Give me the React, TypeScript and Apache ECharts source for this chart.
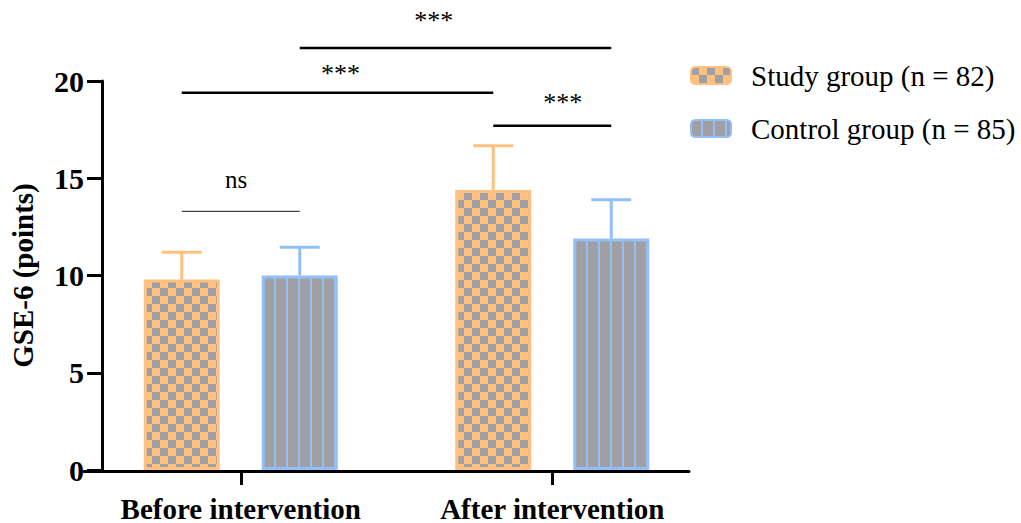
import { useEffect, useRef } from 'react';
import * as echarts from 'echarts';

// ---- data ----
const categories = ['Before intervention', 'After intervention'];
const seriesNames = ['Study group (n = 82)', 'Control group (n = 85)'];
const studyMeans = [9.8, 14.4];
const studySD = [1.4, 2.27];
const controlMeans = [10.0, 11.9];
const controlSD = [1.45, 2.0];
const yMin = 0;
const yMax = 20;
const yInterval = 5;
const yAxisName = 'GSE-6 (points)';

// significance brackets: [fromCategory, fromGroup, toCategory, toGroup, lineValue, labelFraction, labelValue]
const bracketFrom = [[0, 0], [0, 0], [0, 1], [1, 0]];
const bracketTo = [[0, 1], [1, 0], [1, 1], [1, 1]];
const bracketValue = [13.3, 19.4, 21.7, 17.7];
const bracketLabels = ['ns', '***', '***', '***'];
const bracketLabelFrac = [0.46, 0.51, 0.43, 0.59];
const bracketLabelValue = [14.95, 20.4, 23.1, 18.9];

// ---- style ----
const SERIF = '"Liberation Serif", "Times New Roman", serif';
const ORANGE = '#FFC080';
const BLUE = '#92BFF7';
const GRAY = '#A0A0A4';
const BAR_W = 76;
const BAR_GAP = 42;
const BAR_OFFSET = (BAR_W + BAR_GAP) / 2;
const CAP = 20;

function makeChecker(): HTMLCanvasElement {
  const c = document.createElement('canvas');
  c.width = 16;
  c.height = 16;
  const g = c.getContext('2d')!;
  g.fillStyle = ORANGE;
  g.fillRect(0, 0, 16, 16);
  g.fillStyle = GRAY;
  g.fillRect(0, 0, 8, 8);
  g.fillRect(8, 8, 8, 8);
  return c;
}

function makeStripes(): HTMLCanvasElement {
  const c = document.createElement('canvas');
  c.width = 12;
  c.height = 12;
  const g = c.getContext('2d')!;
  g.fillStyle = GRAY;
  g.fillRect(0, 0, 12, 12);
  g.fillStyle = BLUE;
  g.fillRect(10, 0, 2, 12);
  return c;
}

export default function App() {
  const ref = useRef<HTMLDivElement>(null);

  useEffect(() => {
    if (!ref.current) return;
    const chart = echarts.init(ref.current, undefined, { renderer: 'svg' });
    const checker = makeChecker();
    const stripes = makeStripes();

    const errData = [
      ...studyMeans.map((m, i) => [i, 0, m, studySD[i]]),
      ...controlMeans.map((m, i) => [i, 1, m, controlSD[i]]),
    ];
    const bracketData = bracketValue.map((v, i) => [
      bracketFrom[i][0], bracketFrom[i][1], bracketTo[i][0], bracketTo[i][1], v,
      bracketLabelFrac[i], bracketLabelValue[i],
    ]);
    const side = (g: number) => (g === 0 ? -BAR_OFFSET : BAR_OFFSET);

    const option: any = {
      animation: false,
      textStyle: { fontFamily: SERIF },
      legend: {
        data: seriesNames,
        orient: 'vertical',
        left: 685,
        top: 56,
        itemWidth: 40,
        itemHeight: 17,
        itemGap: 24,
        textStyle: { fontFamily: SERIF, fontSize: 29, color: '#000', padding: [0, 0, 0, 15] },
      },
      grid: [
        { left: 82, width: 626, top: 81, bottom: 52 },
        { left: 84, right: 332, top: 81, bottom: 52 },
      ],
      xAxis: [
        {
          type: 'category',
          gridIndex: 0,
          data: categories,
          axisLine: { show: false },
          axisTick: { show: true, interval: 0, alignWithLabel: true, length: 15, lineStyle: { color: '#000', width: 3 } },
          axisLabel: { interval: 0, hideOverlap: false, fontSize: 29, fontWeight: 'bold', color: '#000', margin: 24, fontFamily: SERIF },
          splitLine: { show: false },
        },
        {
          type: 'value',
          gridIndex: 1,
          min: 0,
          max: 1,
          axisLine: { show: true, onZero: false, lineStyle: { color: '#000', width: 3 } },
          axisTick: { show: false },
          axisLabel: { show: false },
          splitLine: { show: false },
        },
      ],
      yAxis: [
        {
          type: 'value',
          gridIndex: 0,
          min: yMin,
          max: yMax,
          interval: yInterval,
          offset: -17,
          axisLine: { show: true, lineStyle: { color: '#000', width: 3 } },
          axisTick: { show: true, length: 15, lineStyle: { color: '#000', width: 3 } },
          axisLabel: { fontSize: 30, fontWeight: 'bold', color: '#000', margin: 18, fontFamily: SERIF },
          splitLine: { show: false },
          name: yAxisName,
          nameLocation: 'middle',
          nameRotate: 90,
          nameGap: 65,
          nameTextStyle: { fontSize: 29, fontWeight: 'bold', color: '#000', fontFamily: SERIF },
        },
        { type: 'value', gridIndex: 1, min: 0, max: 1, show: false },
      ],
      series: [
        {
          name: seriesNames[0],
          type: 'bar',
          xAxisIndex: 0,
          yAxisIndex: 0,
          data: studyMeans,
          barWidth: BAR_W,
          barGap: (BAR_GAP / BAR_W) * 100 + '%',
          itemStyle: {
            color: { image: checker, repeat: 'repeat', imageWidth: 16, imageHeight: 16 },
            borderColor: ORANGE,
            borderWidth: 3,
          },
        },
        {
          name: seriesNames[1],
          type: 'bar',
          xAxisIndex: 0,
          yAxisIndex: 0,
          data: controlMeans,
          barWidth: BAR_W,
          barGap: (BAR_GAP / BAR_W) * 100 + '%',
          itemStyle: {
            color: { image: stripes, repeat: 'repeat', imageWidth: 12, imageHeight: 12 },
            borderColor: BLUE,
            borderWidth: 3,
          },
        },
        {
          name: 'errors',
          type: 'custom',
          xAxisIndex: 0,
          yAxisIndex: 0,
          clip: false,
          z: 5,
          encode: { x: 0, y: 2 },
          data: errData,
          renderItem: (_params: any, api: any) => {
            const cat = api.value(0);
            const grp = api.value(1);
            const mean = api.value(2);
            const sd = api.value(3);
            const base = api.coord([cat, mean]);
            const top = api.coord([cat, mean + sd]);
            const x = base[0] + side(grp);
            const color = grp === 0 ? ORANGE : BLUE;
            return {
              type: 'group',
              children: [
                { type: 'line', shape: { x1: x, y1: base[1], x2: x, y2: top[1] }, style: { stroke: color, lineWidth: 3 } },
                { type: 'line', shape: { x1: x - CAP, y1: top[1], x2: x + CAP, y2: top[1] }, style: { stroke: color, lineWidth: 3 } },
              ],
            };
          },
        },
        {
          name: 'brackets',
          type: 'custom',
          xAxisIndex: 0,
          yAxisIndex: 0,
          clip: false,
          z: 6,
          encode: { x: 0, y: 4 },
          data: bracketData,
          renderItem: (params: any, api: any) => {
            const label = bracketLabels[params.dataIndex];
            const y = api.coord([0, api.value(4)])[1];
            const x1 = api.coord([api.value(0), 0])[0] + side(api.value(1));
            const x2 = api.coord([api.value(2), 0])[0] + side(api.value(3));
            const lx = x1 + (x2 - x1) * api.value(5);
            const ly = api.coord([0, api.value(6)])[1];
            const thin = label === 'ns';
            return {
              type: 'group',
              children: [
                {
                  type: 'line',
                  shape: { x1, y1: y, x2, y2: y },
                  style: { stroke: thin ? '#444' : '#000', lineWidth: thin ? 1.3 : 2.5 },
                },
                {
                  type: 'text',
                  x: lx,
                  y: ly,
                  style: {
                    text: label,
                    fill: '#000',
                    fontSize: thin ? 25 : 26,
                    fontFamily: SERIF,
                    align: 'center',
                    verticalAlign: 'middle',
                  },
                },
              ],
            };
          },
        },
      ],
    };
    chart.setOption(option);
    return () => chart.dispose();
  }, []);

  return <div ref={ref} style={{ position: 'absolute', left: 0, top: 0, width: 1021, height: 523 }} />;
}
